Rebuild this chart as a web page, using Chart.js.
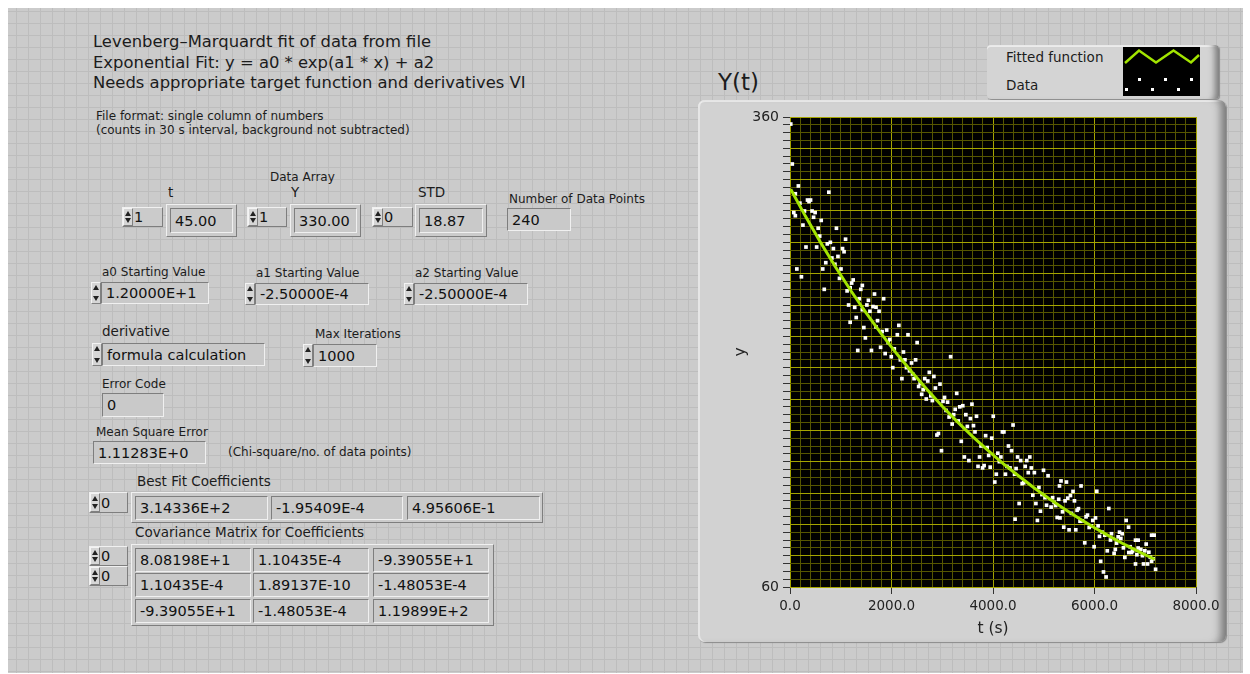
<!DOCTYPE html>
<html>
<head>
<meta charset="utf-8">
<script src="https://cdn.jsdelivr.net/npm/chart.js@4.4.1/dist/chart.umd.min.js"></script>
<style>
  body{margin:0;background:#fff;width:1250px;height:674px;overflow:hidden;font-family:'DejaVu Sans',sans-serif;color:#1c1c1c;}
  #panel{position:absolute;left:8px;top:8px;width:1235px;height:665px;background-color:#cbcbcb;
    background-image:linear-gradient(to right,#bdbdbd 1px,transparent 1px),linear-gradient(to bottom,#bdbdbd 1px,transparent 1px);
    background-size:12px 12px;background-position:8px 3px;}
  .lbl{position:absolute;white-space:nowrap;line-height:1.2;}
  .t16{font-size:16.4px;}
  .t13{font-size:13.5px;}
  .t11{font-size:12px;}
  .raise{position:absolute;box-sizing:border-box;background:#cbcbcb;border:1px solid;border-color:#f0f0f0 #7e7e7e #7e7e7e #f0f0f0;}
  .sunk{position:absolute;box-sizing:border-box;background:#c9c9c9;border:1px solid;border-color:#7e7e7e #f0f0f0 #f0f0f0 #7e7e7e;
    font-size:14.5px;color:#111;padding-left:4px;display:flex;align-items:center;white-space:nowrap;}
  .idx{position:absolute;box-sizing:border-box;background:#cbcbcb;border:1px solid;border-color:#f0f0f0 #7e7e7e #7e7e7e #f0f0f0;
    font-size:14.5px;color:#111;padding-left:11px;display:flex;align-items:center;}
  .spin{position:absolute;box-sizing:border-box;width:10px;background:#d6d6d6;border:1px solid;border-color:#f4f4f4 #808080 #808080 #f4f4f4;}
  .idx .spin{left:0;top:0;bottom:0;}
  .spin:before,.spin:after{content:'';position:absolute;left:1px;width:0;height:0;border-left:3px solid transparent;border-right:3px solid transparent;}
  .spin:before{top:2px;border-bottom:5px solid #222;}
  .spin:after{bottom:2px;border-top:5px solid #222;}
  #frame{position:absolute;left:698px;top:100px;width:528px;height:542px;border-radius:7px;background:#d2d2d2;
    box-shadow:inset -11px 0 8px -6px #777,inset 0 2px 0 #ececec,inset 2px 0 0 #e6e6e6,1px 1px 1px #8a8a8a;}
  #legend{position:absolute;left:987px;top:45px;width:232px;height:54px;border-radius:4px;background:#d4d4d4;
    box-shadow:inset -9px 0 6px -5px #7a7a7a,inset 0 2px 0 #eeeeee,1px 1px 1px #8a8a8a;}
  #chartbox{position:absolute;left:698px;top:100px;width:528px;height:542px;}
</style>
</head>
<body>
<div id="panel"></div>

<div class="lbl t16" style="left:93px;top:32px">Levenberg–Marquardt fit of data from file</div>
<div class="lbl t16" style="left:93px;top:53px">Exponential Fit: y = a0 * exp(a1 * x) + a2</div>
<div class="lbl t16" style="left:93px;top:73px">Needs appropriate target function and derivatives VI</div>
<div class="lbl t11" style="left:96px;top:109px">File format: single column of numbers</div>
<div class="lbl t11" style="left:96px;top:123px">(counts in 30 s interval, background not subtracted)</div>

<div class="lbl t11" style="left:270px;top:170px">Data Array</div>
<div class="lbl t13" style="left:168px;top:184px">t</div>
<div class="lbl t13" style="left:291px;top:184px">Y</div>
<div class="lbl t13" style="left:418px;top:184px">STD</div>
<div class="lbl t11" style="left:509px;top:192px">Number of Data Points</div>

<div class="idx" style="left:122px;top:207px;width:41px;height:20px"><span class="spin"></span>1</div>
<div class="raise" style="left:166px;top:204px;width:71px;height:33px"></div>
<div class="sunk" style="left:170px;top:208px;width:63px;height:25px">45.00</div>
<div class="idx" style="left:247px;top:207px;width:40px;height:20px"><span class="spin"></span>1</div>
<div class="raise" style="left:290px;top:204px;width:71px;height:33px"></div>
<div class="sunk" style="left:294px;top:208px;width:63px;height:25px">330.00</div>
<div class="idx" style="left:372px;top:207px;width:41px;height:20px"><span class="spin"></span>0</div>
<div class="raise" style="left:415px;top:204px;width:72px;height:33px"></div>
<div class="sunk" style="left:419px;top:208px;width:64px;height:25px">18.87</div>
<div class="sunk" style="left:507px;top:208px;width:64px;height:23px">240</div>

<div class="lbl t11" style="left:102px;top:265px">a0 Starting Value</div>
<div class="lbl t11" style="left:256px;top:266px">a1 Starting Value</div>
<div class="lbl t11" style="left:415px;top:266px">a2 Starting Value</div>
<div class="spin" style="left:91px;top:282px;height:22px"></div>
<div class="sunk" style="left:101px;top:282px;width:108px;height:22px">1.20000E+1</div>
<div class="spin" style="left:245px;top:283px;height:22px"></div>
<div class="sunk" style="left:255px;top:283px;width:114px;height:22px">-2.50000E-4</div>
<div class="spin" style="left:404px;top:283px;height:22px"></div>
<div class="sunk" style="left:414px;top:283px;width:114px;height:22px">-2.50000E-4</div>

<div class="lbl t13" style="left:102px;top:323px">derivative</div>
<div class="lbl t11" style="left:315px;top:327px">Max Iterations</div>
<div class="spin" style="left:92px;top:343px;height:23px"></div>
<div class="sunk" style="left:102px;top:343px;width:163px;height:23px">formula calculation</div>
<div class="spin" style="left:303px;top:344px;height:23px"></div>
<div class="sunk" style="left:313px;top:344px;width:64px;height:23px">1000</div>

<div class="lbl t11" style="left:102px;top:377px">Error Code</div>
<div class="sunk" style="left:102px;top:393px;width:62px;height:24px">0</div>
<div class="lbl t11" style="left:96px;top:425px">Mean Square Error</div>
<div class="sunk" style="left:93px;top:441px;width:113px;height:23px">1.11283E+0</div>
<div class="lbl t11" style="left:228px;top:445px">(Chi-square/no. of data points)</div>

<div class="lbl t13" style="left:137px;top:473px">Best Fit Coefficients</div>
<div class="idx" style="left:89px;top:492px;width:39px;height:21px"><span class="spin"></span>0</div>
<div class="raise" style="left:131px;top:492px;width:412px;height:31px"></div>
<div class="sunk" style="left:135px;top:496px;width:133px;height:24px">3.14336E+2</div>
<div class="sunk" style="left:271px;top:496px;width:132px;height:24px">-1.95409E-4</div>
<div class="sunk" style="left:407px;top:496px;width:133px;height:24px">4.95606E-1</div>

<div class="lbl t13" style="left:135px;top:524px">Covariance Matrix for Coefficients</div>
<div class="idx" style="left:89px;top:546px;width:39px;height:20px"><span class="spin"></span>0</div>
<div class="idx" style="left:89px;top:566px;width:39px;height:20px"><span class="spin"></span>0</div>
<div class="raise" style="left:131px;top:544px;width:363px;height:82px"></div>
<div class="sunk" style="left:135px;top:548px;width:116px;height:24px">8.08198E+1</div>
<div class="sunk" style="left:253px;top:548px;width:116px;height:24px">1.10435E-4</div>
<div class="sunk" style="left:373px;top:548px;width:116px;height:24px">-9.39055E+1</div>
<div class="sunk" style="left:135px;top:573px;width:116px;height:24px">1.10435E-4</div>
<div class="sunk" style="left:253px;top:573px;width:116px;height:24px">1.89137E-10</div>
<div class="sunk" style="left:373px;top:573px;width:116px;height:24px">-1.48053E-4</div>
<div class="sunk" style="left:135px;top:599px;width:116px;height:24px">-9.39055E+1</div>
<div class="sunk" style="left:253px;top:599px;width:116px;height:24px">-1.48053E-4</div>
<div class="sunk" style="left:373px;top:599px;width:116px;height:24px">1.19899E+2</div>

<div class="lbl" style="left:718px;top:69px;font-size:23px">Y(t)</div>

<div id="legend"></div>
<div class="lbl" style="left:1006px;top:49px;font-size:13.5px">Fitted function</div>
<div class="lbl" style="left:1006px;top:77px;font-size:13.5px">Data</div>
<svg style="position:absolute;left:1123px;top:47px" width="77" height="49">
  <rect x="0" y="0" width="77" height="49" fill="#000"/>
  <polyline points="2,16 16,3.5 33,15.5 50.5,3.5 68,15.5 76,8" fill="none" stroke="#a2e400" stroke-width="2.5"/>
  <rect x="15" y="31" width="3" height="3" fill="#fff"/>
  <rect x="41" y="31" width="3" height="3" fill="#fff"/>
  <rect x="67" y="31" width="3" height="3" fill="#fff"/>
  <rect x="2" y="41" width="3" height="3" fill="#fff"/>
  <rect x="28" y="41" width="3" height="3" fill="#fff"/>
  <rect x="54" y="41" width="3" height="3" fill="#fff"/>
</svg>

<div id="frame"></div>
<div id="chartbox"><canvas id="fitChart" width="528" height="542"></canvas></div>

<script>
// ======================================
// DATA
// ======================================
const dataT = [
  15, 45, 75, 105, 105, 135, 165, 195, 225, 255, 285, 315, 345, 375, 405, 435, 465, 495, 525, 555,
  585, 615, 645, 675, 705, 735, 765, 795, 825, 855, 885, 915, 945, 975, 1005, 1035, 1065, 1095, 1125, 1155,
  1185, 1185, 1215, 1245, 1275, 1305, 1335, 1365, 1395, 1425, 1425, 1455, 1485, 1515, 1545, 1575, 1605, 1635, 1665, 1695,
  1695, 1725, 1755, 1785, 1815, 1845, 1875, 1905, 1935, 1965, 1995, 2025, 2055, 2115, 2145, 2175, 2205, 2235, 2265, 2295,
  2325, 2355, 2395, 2415, 2445, 2475, 2505, 2535, 2565, 2595, 2625, 2655, 2685, 2715, 2745, 2775, 2805, 2835, 2865, 2895,
  2925, 2955, 2985, 3015, 3045, 3075, 3105, 3135, 3165, 3195, 3225, 3255, 3285, 3315, 3345, 3375, 3405, 3435, 3465, 3495,
  3525, 3555, 3585, 3615, 3645, 3675, 3705, 3735, 3765, 3795, 3825, 3855, 3885, 3915, 3945, 3975, 4005, 4035, 4065, 4095,
  4125, 4155, 4185, 4215, 4245, 4275, 4305, 4335, 4365, 4395, 4425, 4435, 4455, 4485, 4515, 4545, 4575, 4605, 4635, 4665,
  4695, 4725, 4755, 4785, 4815, 4845, 4875, 4905, 4935, 4965, 4995, 5025, 5055, 5085, 5145, 5175, 5205, 5235, 5265, 5295,
  5310, 5320, 5340, 5370, 5394, 5420, 5447, 5473, 5499, 5526, 5545, 5577, 5605, 5631, 5657, 5684, 5715, 5735, 5755, 5808,
  5834, 5862, 5895, 5935, 5966, 5992, 6020, 6045, 6071, 6098, 6122, 6150, 6177, 6203, 6229, 6252, 6282, 6315, 6335, 6386,
  6410, 6435, 6466, 6493, 6519, 6545, 6570, 6598, 6624, 6671, 6676, 6702, 6730, 6750, 6808, 6808, 6835, 6860, 6860, 6913,
  6945, 6966, 6992, 7018, 7045, 7071, 7100, 7125, 7125, 7155, 7176, 7204
];
const dataY = [
  355.5, 330, 299, 297, 311, 263, 316, 305, 258, 291, 300, 277, 307, 306, 307, 300, 296, 299, 277, 289,
  284, 294, 263, 250, 267, 279, 312, 280, 270, 276, 266, 289, 271, 257, 263, 276, 274, 282, 249, 240,
  229, 251, 254, 256, 238.5, 232, 211, 244, 250, 252.5, 237, 225.6, 219, 240, 243, 236, 211, 239, 247, 238.6,
  226, 230, 236, 213, 223, 244, 209, 224, 216, 218, 207, 200, 212, 221, 227, 205, 193, 210, 205, 200,
  221, 198, 203, 196, 193, 205, 216, 188, 190, 183, 186, 193, 180, 191.5, 197, 182, 179, 194.4, 187, 157,
  158, 189.5, 147, 178.5, 181, 172.7, 178, 168.5, 207, 164, 170, 173.4, 183.6, 166, 175, 153, 175.7, 143, 170, 162.5,
  140.7, 167.5, 176.7, 163, 159, 169, 137, 143, 150, 136, 137.5, 156.6, 149, 144, 136.5, 155, 169, 127, 132, 145.4,
  140, 143, 159, 159, 132, 137, 150, 136, 147, 163.4, 132, 103.3, 135.6, 143, 113.3, 140.7, 126, 126.5, 137, 140.7,
  133, 143, 136, 118.6, 133, 113.3, 102.5, 123.5, 108.4, 119, 134.5, 117, 112.2, 131, 111, 117, 114, 112, 104.4, 116,
  124.5, 104.1, 127.7, 108, 98.2, 115, 127, 116.7, 96.5, 118.4, 107, 121, 115, 96.5, 109, 110, 102, 124.5, 102.2, 88.2,
  104.8, 105.9, 98, 99, 102.5, 85.7, 104.1, 121.1, 99, 92.3, 76.4, 95, 69.6, 93.1, 66.4, 83.1, 110.1, 90, 94, 81.5,
  84, 88, 92, 95, 91, 94, 85, 78.9, 102.5, 98.2, 82, 85.7, 82, 83, 89.9, 74.7, 80.6, 89.9, 84.9, 84,
  80, 74.7, 83.1, 87.4, 74.7, 82.2, 79, 93.1, 76.4, 78, 93.1, 71.3
];

// fitted curve y = 314.336*exp(-1.95409E-4*t) + 0.4956, values typed from the fit
const fitT = [15, 300, 600, 900, 1200, 1500, 1800, 2100, 2400, 2700, 3000, 3300, 3600,
  3900, 4200, 4500, 4800, 5100, 5400, 5700, 6000, 6300, 6600, 6900, 7185];
const fitY = [313.9, 296.9, 280.1, 264.1, 249.1, 235.0, 221.6, 209.0, 197.2, 186.0, 175.4, 165.4, 156.0,
  147.2, 138.8, 131.0, 123.5, 116.5, 109.9, 103.7, 97.8, 92.3, 87.0, 82.1, 77.7];

// tick labels
const xLabelled = [0, 2000, 4000, 6000, 8000];
const yLabelled = [60, 360];

// ======================================
// CHART
// ======================================
const gridMinor = '#565600';
const gridMajor = '#a4a400';

const plotBackground = {
  id:'plotBackground',
  beforeDraw(chart){
    const a = chart.chartArea;
    chart.ctx.save();
    chart.ctx.fillStyle = '#000';
    chart.ctx.fillRect(a.left, a.top, a.right - a.left, a.bottom - a.top);
    chart.ctx.restore();
  }
};

new Chart(document.getElementById('fitChart'), {

  type:'scatter',

  data:{
    datasets:[
      {
        label:'Fitted function',
        data:fitT.map((t, i) => ({x:t, y:fitY[i]})),
        showLine:true,
        borderColor:'#a2e400',
        borderWidth:3,
        pointRadius:0,
        tension:0,
        order:0
      },
      {
        label:'Data',
        data:dataT.map((t, i) => ({x:t, y:dataY[i]})),
        pointStyle:'rect',
        pointRadius:2.6,
        pointBorderWidth:0,
        backgroundColor:'#ffffff',
        order:1
      }
    ]
  },

  plugins:[plotBackground],

  options:{
    responsive:false,
    animation:false,
    events:[],
    layout:{
      padding:{left:30, top:17, right:30, bottom:2}
    },
    plugins:{
      legend:{display:false},
      tooltip:{enabled:false}
    },
    scales:{
      x:{
        type:'linear',
        min:0,
        max:8000,
        afterFit(scale){ scale.height = 53; },
        ticks:{
          stepSize:200,
          autoSkip:false,
          maxRotation:0,
          padding:4,
          color:'#222',
          font:{family:'DejaVu Sans', size:13.5},
          callback:(v) => xLabelled.includes(v) ? v.toFixed(1) : ''
        },
        grid:{
          color:(c) => c.tick && c.tick.value % 2000 === 0 ? gridMajor : gridMinor,
          tickColor:(c) => c.tick && c.tick.value % 2000 === 0 ? '#333' : 'rgba(0,0,0,0)',
          tickLength:7
        },
        border:{display:false},
        title:{
          display:true,
          text:'t (s)',
          color:'#222',
          font:{family:'DejaVu Sans', size:15.5},
          padding:{top:2, bottom:2}
        }
      },
      y:{
        type:'linear',
        min:60,
        max:360,
        afterFit(scale){ scale.width = 62; },
        ticks:{
          stepSize:5,
          autoSkip:false,
          padding:4,
          color:'#222',
          font:{family:'DejaVu Sans', size:14},
          callback:(v) => yLabelled.includes(v) ? String(v) : ''
        },
        grid:{
          color:(c) => c.tick && c.tick.value % 20 === 0 ? gridMajor : gridMinor,
          tickColor:'#333',
          tickLength:7
        },
        border:{display:false},
        title:{
          display:true,
          text:'y',
          color:'#222',
          font:{family:'DejaVu Sans', size:15.5},
          padding:{top:4, bottom:4}
        }
      }
    }
  }
});
</script>
</body>
</html>
